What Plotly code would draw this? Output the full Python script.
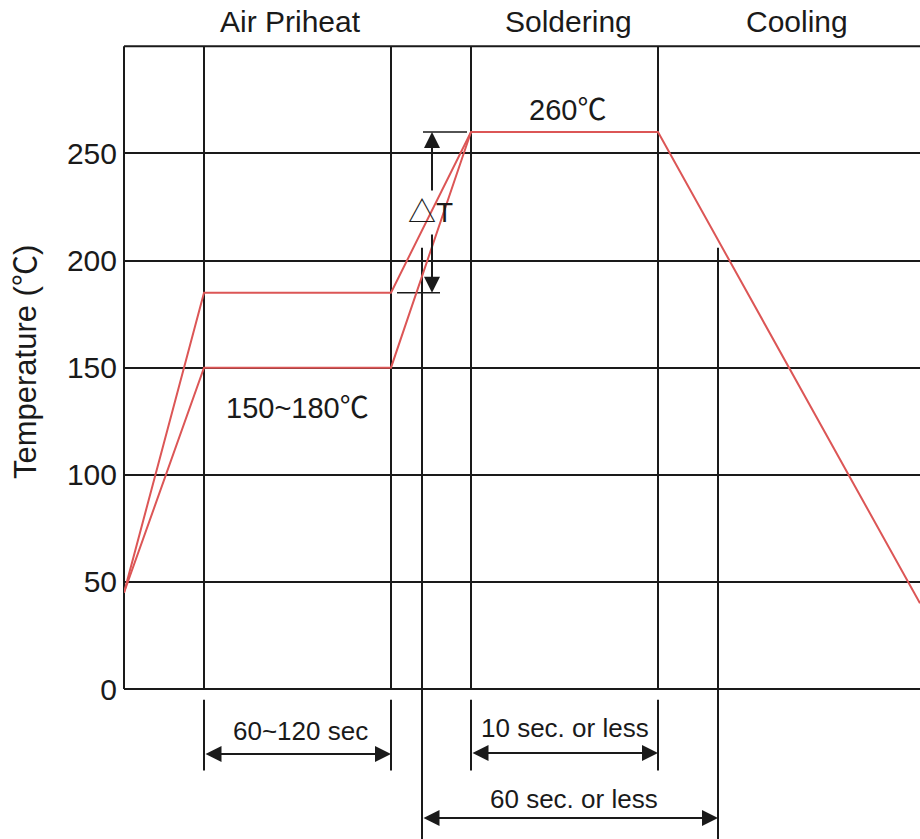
import plotly.graph_objects as go

# ---- data (time in arbitrary units, temperature in degC) ----
upper_t = [0, 40, 133.5, 173.5, 267, 398]
upper_T = [45, 185, 185, 260, 260, 40]
lower_t = [0, 40, 133.5, 173.5]
lower_T = [45, 150, 150, 260]

phase_bounds = [40, 133.5, 173.5, 267]      # full-height vertical lines
window_bounds = [149, 297]                   # 60 sec window lines
window_top = 206
ytick_vals = [0, 50, 100, 150, 200, 250]
ytick_text = ["0", "50", "100", "150", "200", "250"]
phase_labels = ["Air Priheat", "Soldering", "Cooling"]
phase_label_t = [83, 222, 336.5]
dT_low, dT_high = 185, 260

RED = "#dc5656"
BLK = "#1a1a1a"
FONT = "Liberation Sans, Arial, 'Noto Sans CJK JP', sans-serif"

fig = go.Figure()
fig.add_trace(go.Scatter(x=upper_t, y=upper_T, mode="lines",
                         line=dict(color=RED, width=2), showlegend=False, hoverinfo="skip"))
fig.add_trace(go.Scatter(x=lower_t, y=lower_T, mode="lines",
                         line=dict(color=RED, width=2), showlegend=False, hoverinfo="skip"))

shapes = []
def seg(x0, y0, x1, y1, w=2, xref="x"):
    shapes.append(dict(type="line", xref=xref, yref="y", x0=x0, y0=y0, x1=x1, y1=y1,
                       line=dict(color=BLK, width=w), layer="below"))

# frame
seg(0, 0, 0, 300, xref="paper")
seg(0, 300, 398, 300)
for b in phase_bounds:
    seg(b, 0, b, 300)
for b in window_bounds:
    seg(b, window_top, b, -70)
# dimension ticks below axis
for b in [40, 133.5, 173.5, 267]:
    seg(b, -5, b, -38)
# delta T reference lines
seg(149.5, dT_high, 171.5, dT_high, 1.5)
seg(136.5, dT_low, 158, dT_low, 1.5)

annotations = []
def arrow(x0, y0, x1, y1, side="end+start"):
    annotations.append(dict(x=x1, y=y1, ax=x0, ay=y0, xref="x", yref="y", axref="x", ayref="y",
                            text="", showarrow=True, arrowhead=2, arrowsize=1.6, arrowwidth=2,
                            arrowcolor=BLK, arrowside=side, standoff=0, startstandoff=0))

arrow(40, -30.3, 133.5, -30.3)
arrow(173.5, -29.9, 267, -29.9)
arrow(149, -60.2, 297, -60.2)
arrow(154, 232, 154, dT_high, side="end")
arrow(154, 212.8, 154, dT_low, side="end")

def label(x, y, text, size=27, xref="x", yref="y", angle=0):
    annotations.append(dict(x=x, y=y, xref=xref, yref=yref, text=text, showarrow=False,
                            font=dict(family=FONT, size=size, color=BLK), textangle=angle,
                            xanchor="center", yanchor="middle"))

for name, t in zip(phase_labels, phase_label_t):
    label(t, 1.0251, name, 30, yref="paper")
label(221.5, 270.2, "260℃", 29)
label(86.5, 131.1, "150~180℃", 29)
label(153, 222.6, "△T", 28)
label(88, -19.6, "60~120 sec", 26)
label(220.5, -18.2, "10 sec. or less", 26)
label(225, -51.3, "60 sec. or less", 26)
label(-0.1244, 152.6, "Temperature (℃)", 31, xref="paper", angle=-90)

fig.update_layout(
    width=920, height=839,
    margin=dict(l=124, r=0, t=42, b=0),
    paper_bgcolor="white", plot_bgcolor="white",
    shapes=shapes, annotations=annotations,
    xaxis=dict(range=[0, 398], showgrid=False, zeroline=False, showticklabels=False,
               showline=False, ticks=""),
    yaxis=dict(range=[-70, 302], tickvals=ytick_vals, ticktext=ytick_text,
               showgrid=True, gridcolor=BLK, gridwidth=2, zeroline=False, showline=False,
               ticks="", ticklabelstandoff=6, tickfont=dict(family=FONT, size=30, color=BLK)),
    font=dict(family=FONT),
)

fig.write_html("out.html", config={"displayModeBar": False},
               post_script="document.body.style.margin='0';document.body.style.overflow='hidden';")
